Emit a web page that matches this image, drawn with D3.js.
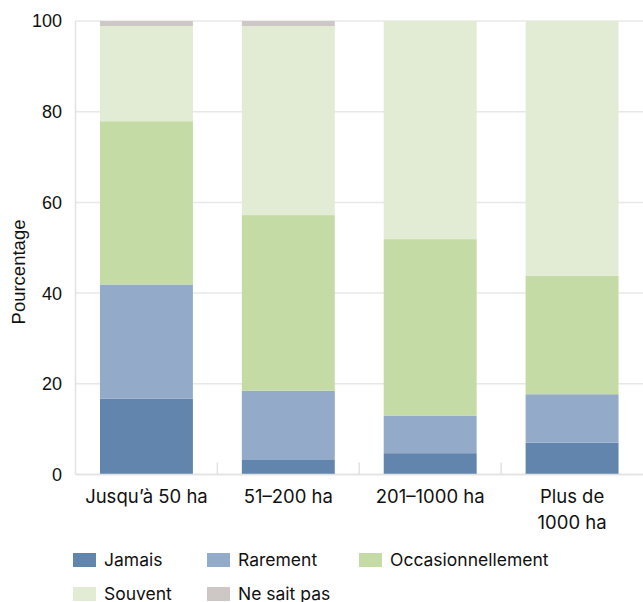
<!DOCTYPE html>
<html>
<head>
<meta charset="utf-8">
<script src="https://cdn.jsdelivr.net/npm/d3@7/dist/d3.min.js"></script>
<style>
  html, body { margin: 0; padding: 0; background: #fff; }
  svg { display: block; }
  .tick-num { font-family: "Liberation Sans", Arial, sans-serif; font-size: 18px; fill: #111; }
  .cat { font-family: "Inter", "Noto Sans", sans-serif; font-size: 18.5px; fill: #111; }
  .leg { font-family: "Inter", "Noto Sans", sans-serif; font-size: 17.5px; fill: #111; }
  .ylab { font-family: "Liberation Sans", Arial, sans-serif; font-size: 18.5px; fill: #111; }
</style>
</head>
<body>
<div id="chart"></div>
<script>
// Farm size classes
const categories = ["Jusqu’à 50 ha", "51–200 ha", "201–1000 ha", "Plus de 1000 ha"];
const categoryLines = [["Jusqu’à 50 ha"], ["51–200 ha"], ["201–1000 ha"], ["Plus de", "1000 ha"]];

// Response shares (%) per size class
const jamais            = [16.7, 3.2, 4.7, 7.0];
const rarement          = [25.2, 15.3, 8.3, 10.7];
const occasionnellement = [36.0, 38.7, 38.9, 26.1];
const souvent           = [21.0, 41.7, 48.1, 56.2];
const neSaitPas         = [1.1, 1.1, 0, 0];

const seriesNames = ["Jamais", "Rarement", "Occasionnellement", "Souvent", "Ne sait pas"];
const seriesColors = ["#6285ae", "#94aac9", "#c5dba5", "#e2ebd4", "#cdc8c5"];
const yTicks = [0, 20, 40, 60, 80, 100];

const W = 643, H = 602;
const margin = { left: 75.5, right: 0, top: 21, bottom: 127.5 };

const rows = categories.map((c, i) => ({
  cat: c,
  "Jamais": jamais[i],
  "Rarement": rarement[i],
  "Occasionnellement": occasionnellement[i],
  "Souvent": souvent[i],
  "Ne sait pas": neSaitPas[i]
}));

const svg = d3.select("#chart").append("svg").attr("width", W).attr("height", H);

const x = d3.scaleBand().domain(categories)
  .range([margin.left, W - margin.right])
  .paddingInner(0.345).paddingOuter(0.1725);
const y = d3.scaleLinear().domain([0, 100]).range([H - margin.bottom, margin.top]);

// gridlines
svg.append("g").selectAll("line").data(yTicks).join("line")
  .attr("x1", margin.left).attr("x2", W)
  .attr("y1", d => y(d)).attr("y2", d => y(d))
  .attr("stroke", "#e8e8e8").attr("stroke-width", 1.5);

// stacked bars
const stack = d3.stack().keys(seriesNames)(rows);
const color = d3.scaleOrdinal().domain(seriesNames).range(seriesColors);

svg.append("g").selectAll("g").data(stack).join("g")
  .attr("fill", d => color(d.key))
  .selectAll("rect").data(d => d).join("rect")
  .attr("x", d => x(d.data.cat))
  .attr("width", x.bandwidth())
  .attr("y", d => y(d[1]))
  .attr("height", d => Math.max(0, y(d[0]) - y(d[1])));

// left axis line
svg.append("line")
  .attr("x1", margin.left).attr("x2", margin.left)
  .attr("y1", y(100)).attr("y2", y(0))
  .attr("stroke", "#e2e2e2").attr("stroke-width", 1.5);

// bottom axis line
svg.append("line")
  .attr("x1", margin.left).attr("x2", W)
  .attr("y1", y(0)).attr("y2", y(0))
  .attr("stroke", "#e2e2e2").attr("stroke-width", 1.5);

// separators between categories
const seps = categories.slice(1).map(c => x(c) - x.step() * x.paddingInner() / 2);
svg.append("g").selectAll("line").data(seps).join("line")
  .attr("x1", d => d).attr("x2", d => d)
  .attr("y1", y(0)).attr("y2", y(0) - 12)
  .attr("stroke", "#e2e2e2").attr("stroke-width", 1.5);

// y tick labels
svg.append("g").selectAll("text").data(yTicks).join("text")
  .attr("class", "tick-num")
  .attr("x", 62).attr("y", d => y(d))
  .attr("dy", "0.36em")
  .attr("text-anchor", "end")
  .text(d => d);

// category labels
const catG = svg.append("g").selectAll("text").data(categories).join("text")
  .attr("class", "cat")
  .attr("text-anchor", "middle")
  .attr("x", d => x(d) + x.bandwidth() / 2)
  .attr("y", 503);
catG.each(function(d, i) {
  d3.select(this).selectAll("tspan").data(categoryLines[i]).join("tspan")
    .attr("x", x(d) + x.bandwidth() / 2)
    .attr("dy", (l, j) => j === 0 ? 0 : 26)
    .text(l => l);
});

// y axis title
svg.append("text")
  .attr("class", "ylab")
  .attr("transform", "translate(25,272) rotate(-90)")
  .attr("text-anchor", "middle")
  .text("Pourcentage");

// legend
const legendPos = [
  { x: 73, y: 553 }, { x: 207, y: 553 }, { x: 359, y: 553 },
  { x: 73, y: 587 }, { x: 207, y: 587 }
];
const leg = svg.append("g").selectAll("g").data(seriesNames).join("g")
  .attr("transform", (d, i) => `translate(${legendPos[i].x},${legendPos[i].y})`);
leg.append("rect").attr("width", 23).attr("height", 14).attr("fill", d => color(d));
leg.append("text").attr("class", "leg")
  .attr("x", 31).attr("y", 7).attr("dy", "0.36em")
  .text(d => d);
</script>
</body>
</html>
